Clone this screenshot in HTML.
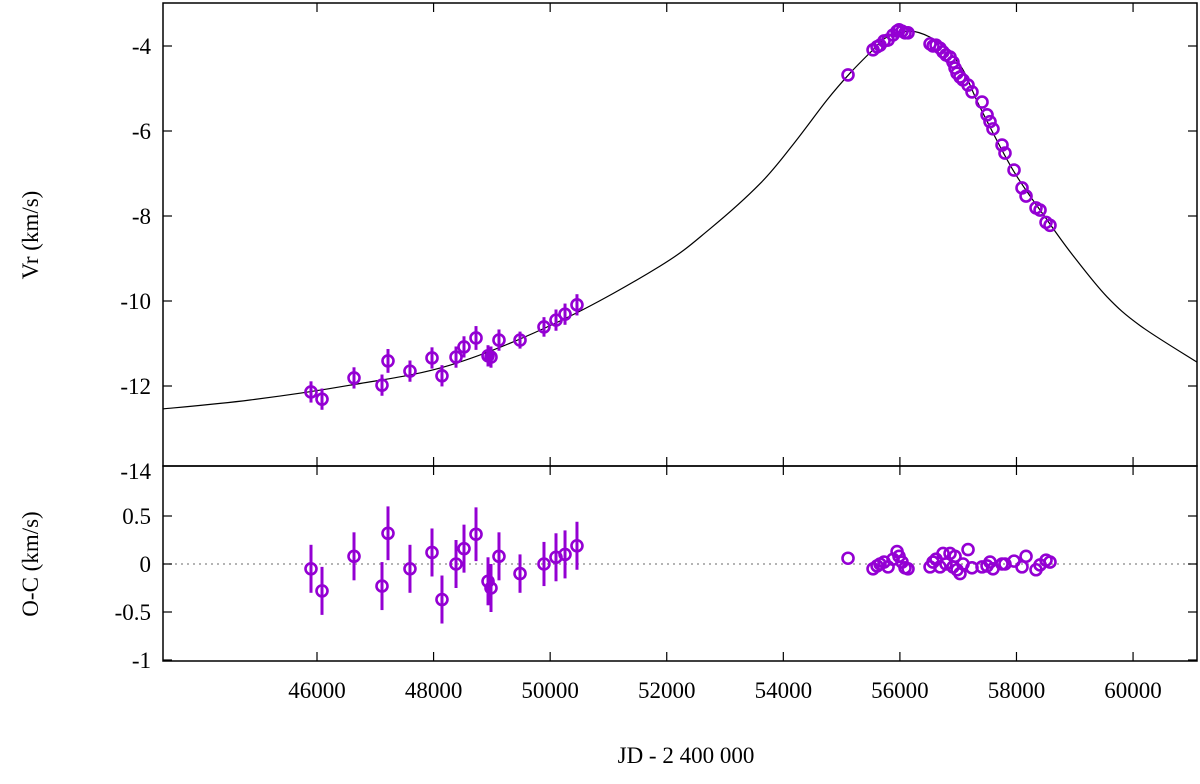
<!DOCTYPE html>
<html><head><meta charset="utf-8"><style>
body{margin:0;background:#fff}
svg text{font-family:"Liberation Serif",serif;font-size:23px;fill:#000}
</style></head><body>
<svg id="chart" width="1200" height="779" xmlns="http://www.w3.org/2000/svg">
<rect width="1200" height="779" fill="#fff"/>
<g id="g"></g>
</svg>
<script>
// ----- data -----
const curveJD=[43358,44851,46566,48282,50169,51885,52742,53600,54166,54749,55144,55539,55779,56174,56517,56808,57083,57375,57941,58524,58970,59553,60120,61098];
const curveVr=[-12.54,-12.33,-11.98,-11.51,-10.47,-9.18,-8.30,-7.24,-6.32,-5.27,-4.64,-4.09,-3.79,-3.65,-3.79,-4.09,-4.56,-5.44,-6.92,-8.09,-8.93,-9.90,-10.58,-11.44];
const obsJD=[45897,46086,46635,47115,47218,47595,47973,48144,48385,48522,48728,48934,48985,49122,49483,49894,50100,50255,50460,
55110,55539,55608,55659,55728,55797,55882,55951,55985,56037,56088,56139,
56517,56568,56620,56688,56740,56791,56860,56911,56946,56980,57031,57083,57169,57237,57409,57495,57546,57597,57752,57803,57958,58095,58164,58335,58404,58507,58575];
const obsVr=[-12.14,-12.31,-11.81,-11.98,-11.41,-11.65,-11.34,-11.76,-11.32,-11.08,-10.87,-11.29,-11.32,-10.92,-10.92,-10.61,-10.45,-10.31,-10.09,
-4.68,-4.09,-4.02,-3.98,-3.88,-3.86,-3.74,-3.65,-3.62,-3.65,-3.69,-3.69,
-3.95,-4.0,-3.98,-4.05,-4.14,-4.21,-4.26,-4.38,-4.52,-4.64,-4.73,-4.80,-4.92,-5.08,-5.32,-5.62,-5.78,-5.95,-6.33,-6.52,-6.92,-7.34,-7.53,-7.81,-7.86,-8.15,-8.22];
const obsOC=[-0.05,-0.28,0.08,-0.23,0.32,-0.05,0.12,-0.37,0.0,0.16,0.31,-0.18,-0.25,0.08,-0.1,0.0,0.07,0.1,0.19,
0.06,-0.05,-0.02,0.0,0.02,-0.03,0.05,0.13,0.08,0.02,-0.04,-0.05,
-0.03,0.02,0.05,-0.03,0.11,0.0,0.11,-0.03,0.08,-0.06,-0.1,0.0,0.15,-0.04,-0.03,-0.02,0.02,-0.05,0.0,0.0,0.03,-0.03,0.08,-0.06,-0.01,0.04,0.02];
const obsErr=[0.25,0.25,0.25,0.25,0.28,0.25,0.25,0.25,0.25,0.25,0.28,0.25,0.25,0.25,0.2,0.23,0.25,0.25,0.25];
const xTicks=[46000,48000,50000,52000,54000,56000,58000,60000];
const vTicks=[-4,-6,-8,-10,-12,-14];
const ocTicks=[0.5,0,-0.5,-1];
// ----- scales -----
const X0=163,X1=1197;
const xs=v=>317+(v-46000)*0.05829;
const ys=v=>46+(-4-v)*42.5;
const yo=v=>564-v*96;
const g=document.getElementById('g');
const NS='http://www.w3.org/2000/svg';
function mk(t,a,p){const e=document.createElementNS(NS,t);for(const k in a)e.setAttribute(k,a[k]);(p||g).appendChild(e);return e;}
const col='#9400d3';
let z=mk('line',{x1:X0,x2:X1,y1:yo(0),y2:yo(0),stroke:'#888','stroke-width':1.2,'stroke-dasharray':'2,4'});


const cp=document.createElementNS(NS,'clipPath');cp.id='c1';g.appendChild(cp);
mk('rect',{x:X0,y:3,width:X1-X0,height:463},cp);
const P=curveJD.map((j,i)=>[xs(j),ys(curveVr[i])]);
let d='M'+P[0][0].toFixed(1)+','+P[0][1].toFixed(1);
for(let i=0;i<P.length-1;i++){
  const p0=P[Math.max(0,i-1)],p1=P[i],p2=P[i+1],p3=P[Math.min(P.length-1,i+2)];
  const c1=[p1[0]+(p2[0]-p0[0])/6,p1[1]+(p2[1]-p0[1])/6];
  const c2=[p2[0]-(p3[0]-p1[0])/6,p2[1]-(p3[1]-p1[1])/6];
  d+='C'+c1.map(v=>v.toFixed(1)).join(',')+' '+c2.map(v=>v.toFixed(1)).join(',')+' '+p2.map(v=>v.toFixed(1)).join(',');
}
let cu=mk('path',{d:d,fill:'none',stroke:'#000','stroke-width':1.2,'clip-path':'url(#c1)'});


for(let i=0;i<obsJD.length;i++){
  const x=xs(obsJD[i]);const er=i<obsErr.length?obsErr[i]:0;
  if(er){
    let b=mk('line',{x1:x,x2:x,y1:ys(obsVr[i]+er),y2:ys(obsVr[i]-er),stroke:col,'stroke-width':3});
    
    
    let b2=mk('line',{x1:x,x2:x,y1:yo(obsOC[i]+er),y2:yo(obsOC[i]-er),stroke:col,'stroke-width':3});
    
    
  }
  let c=mk('circle',{cx:x,cy:ys(obsVr[i]),r:5.5,fill:'none',stroke:col,'stroke-width':2.6});
  
  
  let c2=mk('circle',{cx:x,cy:yo(obsOC[i]),r:5.5,fill:'none',stroke:col,'stroke-width':2.6});
  
  
}
let f1=mk('rect',{x:X0,y:3,width:X1-X0,height:463,fill:'none',stroke:'#000','stroke-width':1.5});


let f2=mk('rect',{x:X0,y:466,width:X1-X0,height:195,fill:'none',stroke:'#000','stroke-width':1.5});


for(const t of xTicks){const x=xs(t);
  for(const [a,b] of [[3,12],[466,457],[466,475],[661,652]]) mk('line',{x1:x,x2:x,y1:a,y2:b,stroke:'#000','stroke-width':1.2});
  let l=mk('text',{x:x,y:698,'text-anchor':'middle'});l.textContent=t;
  
  
}
for(const t of vTicks){const y=ys(t);
  if(y<466){mk('line',{x1:X0,x2:X0+9,y1:y,y2:y,stroke:'#000','stroke-width':1.2});mk('line',{x1:X1,x2:X1-9,y1:y,y2:y,stroke:'#000','stroke-width':1.2});}
  let l=mk('text',{x:151,y:y+8,'text-anchor':'end'});l.textContent=t;
  
  
}
for(const t of ocTicks){const y=yo(t);
  mk('line',{x1:X0,x2:X0+9,y1:y,y2:y,stroke:'#000','stroke-width':1.2});mk('line',{x1:X1,x2:X1-9,y1:y,y2:y,stroke:'#000','stroke-width':1.2});
  let l=mk('text',{x:151,y:y+8,'text-anchor':'end'});l.textContent=t;
  
  
}
let l1=mk('text',{x:686,y:763,'text-anchor':'middle'});l1.textContent='JD - 2 400 000';


let l2=mk('text',{x:0,y:0,'text-anchor':'middle',transform:'translate(38,235) rotate(-90)'});l2.textContent='Vr (km/s)';


let l3=mk('text',{x:0,y:0,'text-anchor':'middle',transform:'translate(38,564) rotate(-90)'});l3.textContent='O-C (km/s)';


</script>
</body></html>
